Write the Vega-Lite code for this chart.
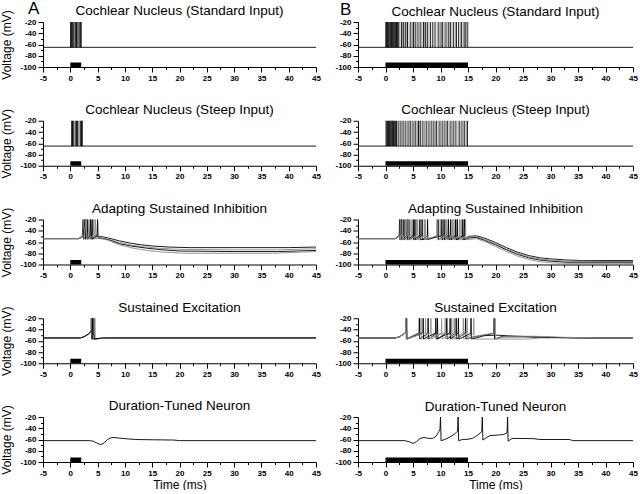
{
"$schema":"https://vega.github.io/schema/vega-lite/v6.json",
"background":"white",
"padding":{"left":0,"top":0,"right":2,"bottom":0},
"config":{"view":{"stroke":null},
"axis":{"domainColor":"#000","tickColor":"#000","labelColor":"#000","titleColor":"#000","labelFont":"Liberation Sans","titleFont":"Liberation Sans","labelFontSize":8,"labelFontWeight":"bold","titleFontWeight":"normal","titleFontSize":12,"labelPadding":2,"domainWidth":1,"tickWidth":1,"grid":false,"labelOverlap":false,"labelFlush":false},
"axisY":{"titlePadding":6},
"axisX":{"titlePadding":2},
"title":{"font":"Liberation Sans","fontSize":13.5,"fontWeight":"normal","color":"#000","frame":"group"}},
"datasets":{
"bars":[{"p":"A1","t0":0,"t1":2},{"p":"A2","t0":0,"t1":2},{"p":"A3","t0":0,"t1":2},{"p":"A4","t0":0,"t1":2},{"p":"A5","t0":0,"t1":2},{"p":"B1","t0":0,"t1":15},{"p":"B2","t0":0,"t1":15},{"p":"B3","t0":0,"t1":15},{"p":"B4","t0":0,"t1":15},{"p":"B5","t0":0,"t1":15}],
"spikes":[
{"p":"A1","k":1,"t":0.05},{"p":"A1","k":1,"t":0.2},{"p":"A1","k":1,"t":0.35},{"p":"A1","k":1,"t":0.5},{"p":"A1","k":1,"t":0.65},{"p":"A1","k":1,"t":0.85},{"p":"A1","k":1,"t":1.0},{"p":"A1","k":1,"t":1.15},{"p":"A1","k":1,"t":1.3},{"p":"A1","k":1,"t":1.55},{"p":"A1","k":1,"t":1.7},{"p":"A1","k":1,"t":1.85},{"p":"A1","k":1,"t":2.0},{"p":"A1","k":2,"t":0.75},{"p":"A1","k":2,"t":1.4},{"p":"A1","k":2,"t":1.6},
{"p":"A2","k":1,"t":0.25},{"p":"A2","k":1,"t":0.4},{"p":"A2","k":1,"t":0.55},{"p":"A2","k":1,"t":1.0},{"p":"A2","k":1,"t":1.15},{"p":"A2","k":1,"t":1.3},{"p":"A2","k":1,"t":1.9},{"p":"A2","k":1,"t":2.05},{"p":"A2","k":1,"t":2.2},{"p":"A2","k":2,"t":0.8},{"p":"A2","k":2,"t":1.5},{"p":"A2","k":2,"t":1.65},
{"p":"B1","k":1,"t":0.05},{"p":"B1","k":1,"t":0.2},{"p":"B1","k":1,"t":0.35},{"p":"B1","k":1,"t":0.5},{"p":"B1","k":1,"t":0.65},{"p":"B1","k":1,"t":0.8},{"p":"B1","k":1,"t":0.95},{"p":"B1","k":1,"t":1.1},{"p":"B1","k":1,"t":1.25},{"p":"B1","k":1,"t":1.4},{"p":"B1","k":1,"t":1.55},{"p":"B1","k":1,"t":1.7},{"p":"B1","k":1,"t":1.85},{"p":"B1","k":1,"t":2.0},{"p":"B1","k":1,"t":2.2},{"p":"B1","k":1,"t":2.4},{"p":"B1","k":1,"t":2.9},{"p":"B1","k":1,"t":3.3},{"p":"B1","k":1,"t":3.6},{"p":"B1","k":1,"t":4.0},{"p":"B1","k":1,"t":4.6},{"p":"B1","k":1,"t":5.1},{"p":"B1","k":1,"t":5.4},{"p":"B1","k":1,"t":5.9},{"p":"B1","k":1,"t":6.3},{"p":"B1","k":1,"t":6.9},{"p":"B1","k":1,"t":7.3},{"p":"B1","k":1,"t":7.6},{"p":"B1","k":1,"t":8.2},{"p":"B1","k":1,"t":8.6},{"p":"B1","k":1,"t":9.0},{"p":"B1","k":1,"t":9.7},{"p":"B1","k":1,"t":10.1},{"p":"B1","k":1,"t":10.4},{"p":"B1","k":1,"t":11.0},{"p":"B1","k":1,"t":11.5},{"p":"B1","k":1,"t":11.8},{"p":"B1","k":1,"t":12.4},{"p":"B1","k":1,"t":12.9},{"p":"B1","k":1,"t":13.3},{"p":"B1","k":1,"t":13.8},{"p":"B1","k":1,"t":14.3},{"p":"B1","k":1,"t":14.6},{"p":"B1","k":1,"t":14.95},
{"p":"B1","k":2,"t":2.6},{"p":"B1","k":2,"t":3.1},{"p":"B1","k":2,"t":3.8},{"p":"B1","k":2,"t":4.3},{"p":"B1","k":2,"t":4.9},{"p":"B1","k":2,"t":5.7},{"p":"B1","k":2,"t":6.6},{"p":"B1","k":2,"t":7.1},{"p":"B1","k":2,"t":7.9},{"p":"B1","k":2,"t":8.9},{"p":"B1","k":2,"t":9.4},{"p":"B1","k":2,"t":10.7},{"p":"B1","k":2,"t":11.2},{"p":"B1","k":2,"t":12.1},{"p":"B1","k":2,"t":12.7},{"p":"B1","k":2,"t":13.6},{"p":"B1","k":2,"t":14.1},{"p":"B1","k":2,"t":14.8},
{"p":"B2","k":1,"t":0.1},{"p":"B2","k":1,"t":0.25},{"p":"B2","k":1,"t":0.4},{"p":"B2","k":1,"t":0.55},{"p":"B2","k":1,"t":0.7},{"p":"B2","k":1,"t":0.85},{"p":"B2","k":1,"t":1.0},{"p":"B2","k":1,"t":1.15},{"p":"B2","k":1,"t":1.3},{"p":"B2","k":1,"t":1.45},{"p":"B2","k":1,"t":1.6},{"p":"B2","k":1,"t":1.8},{"p":"B2","k":1,"t":2.0},{"p":"B2","k":1,"t":2.3},{"p":"B2","k":1,"t":2.8},{"p":"B2","k":1,"t":3.2},{"p":"B2","k":1,"t":3.7},{"p":"B2","k":1,"t":4.1},{"p":"B2","k":1,"t":4.5},{"p":"B2","k":1,"t":5.0},{"p":"B2","k":1,"t":5.5},{"p":"B2","k":1,"t":6.0},{"p":"B2","k":1,"t":6.4},{"p":"B2","k":1,"t":6.8},{"p":"B2","k":1,"t":7.4},{"p":"B2","k":1,"t":7.9},{"p":"B2","k":1,"t":8.3},{"p":"B2","k":1,"t":8.8},{"p":"B2","k":1,"t":9.3},{"p":"B2","k":1,"t":9.9},{"p":"B2","k":1,"t":10.3},{"p":"B2","k":1,"t":10.8},{"p":"B2","k":1,"t":11.3},{"p":"B2","k":1,"t":11.9},{"p":"B2","k":1,"t":12.3},{"p":"B2","k":1,"t":12.8},{"p":"B2","k":1,"t":13.4},{"p":"B2","k":1,"t":13.9},{"p":"B2","k":1,"t":14.4},{"p":"B2","k":1,"t":14.9},
{"p":"B2","k":2,"t":2.5},{"p":"B2","k":2,"t":3.0},{"p":"B2","k":2,"t":3.5},{"p":"B2","k":2,"t":4.3},{"p":"B2","k":2,"t":4.8},{"p":"B2","k":2,"t":5.3},{"p":"B2","k":2,"t":5.8},{"p":"B2","k":2,"t":6.2},{"p":"B2","k":2,"t":7.1},{"p":"B2","k":2,"t":7.7},{"p":"B2","k":2,"t":8.5},{"p":"B2","k":2,"t":9.1},{"p":"B2","k":2,"t":9.6},{"p":"B2","k":2,"t":10.6},{"p":"B2","k":2,"t":11.1},{"p":"B2","k":2,"t":11.6},{"p":"B2","k":2,"t":12.6},{"p":"B2","k":2,"t":13.2},{"p":"B2","k":2,"t":13.7},{"p":"B2","k":2,"t":14.2},{"p":"B2","k":2,"t":14.7}
],
"traces":[
{"p":"A1","k":0,"t":-5,"v":-65},{"p":"A1","k":0,"t":45,"v":-65},
{"p":"A2","k":0,"t":-5,"v":-65},{"p":"A2","k":0,"t":45,"v":-65},
{"p":"B1","k":0,"t":-5,"v":-65},{"p":"B1","k":0,"t":45,"v":-65},
{"p":"B2","k":0,"t":-5,"v":-65},{"p":"B2","k":0,"t":45,"v":-65},
{"p":"A3","k":1,"t":-5,"v":-54},{"p":"A3","k":1,"t":1.5,"v":-54},{"p":"A3","k":1,"t":2.2,"v":-50},{"p":"A3","k":1,"t":2.35,"v":-20},{"p":"A3","k":1,"t":2.45,"v":-55},{"p":"A3","k":1,"t":3.0,"v":-51},{"p":"A3","k":1,"t":3.1,"v":-20},{"p":"A3","k":1,"t":3.2,"v":-55},{"p":"A3","k":1,"t":3.9,"v":-50},{"p":"A3","k":1,"t":4.0,"v":-20},{"p":"A3","k":1,"t":4.1,"v":-55},{"p":"A3","k":1,"t":4.8,"v":-50},{"p":"A3","k":1,"t":5.5,"v":-50},{"p":"A3","k":1,"t":7,"v":-53},{"p":"A3","k":1,"t":9,"v":-58},{"p":"A3","k":1,"t":11,"v":-62},{"p":"A3","k":1,"t":13,"v":-65},{"p":"A3","k":1,"t":15,"v":-67},{"p":"A3","k":1,"t":18,"v":-69},{"p":"A3","k":1,"t":22,"v":-70},{"p":"A3","k":1,"t":30,"v":-70},{"p":"A3","k":1,"t":40,"v":-70},{"p":"A3","k":1,"t":45,"v":-69},
{"p":"A3","k":2,"t":-5,"v":-54},{"p":"A3","k":2,"t":1.5,"v":-54},{"p":"A3","k":2,"t":2.3,"v":-49},{"p":"A3","k":2,"t":2.5,"v":-20},{"p":"A3","k":2,"t":2.6,"v":-55},{"p":"A3","k":2,"t":3.3,"v":-51},{"p":"A3","k":2,"t":3.4,"v":-20},{"p":"A3","k":2,"t":3.5,"v":-55},{"p":"A3","k":2,"t":4.5,"v":-49},{"p":"A3","k":2,"t":4.6,"v":-20},{"p":"A3","k":2,"t":4.7,"v":-55},{"p":"A3","k":2,"t":5.2,"v":-51},{"p":"A3","k":2,"t":7,"v":-55},{"p":"A3","k":2,"t":9,"v":-61},{"p":"A3","k":2,"t":11,"v":-65},{"p":"A3","k":2,"t":13,"v":-68},{"p":"A3","k":2,"t":16,"v":-71},{"p":"A3","k":2,"t":20,"v":-73},{"p":"A3","k":2,"t":30,"v":-74},{"p":"A3","k":2,"t":38,"v":-74},{"p":"A3","k":2,"t":45,"v":-72},
{"p":"A3","k":3,"t":-5,"v":-54},{"p":"A3","k":3,"t":1.6,"v":-54},{"p":"A3","k":3,"t":2.4,"v":-50},{"p":"A3","k":3,"t":2.7,"v":-20},{"p":"A3","k":3,"t":2.8,"v":-55},{"p":"A3","k":3,"t":3.6,"v":-50},{"p":"A3","k":3,"t":3.7,"v":-20},{"p":"A3","k":3,"t":3.8,"v":-55},{"p":"A3","k":3,"t":4.9,"v":-48},{"p":"A3","k":3,"t":5.0,"v":-20},{"p":"A3","k":3,"t":5.1,"v":-53},{"p":"A3","k":3,"t":7,"v":-56},{"p":"A3","k":3,"t":9,"v":-63},{"p":"A3","k":3,"t":11,"v":-67},{"p":"A3","k":3,"t":14,"v":-71},{"p":"A3","k":3,"t":17,"v":-74},{"p":"A3","k":3,"t":20,"v":-76},{"p":"A3","k":3,"t":30,"v":-77},{"p":"A3","k":3,"t":38,"v":-77},{"p":"A3","k":3,"t":45,"v":-75},
{"p":"A3","k":4,"t":-5,"v":-54},{"p":"A3","k":4,"t":1.6,"v":-54},{"p":"A3","k":4,"t":2.5,"v":-50},{"p":"A3","k":4,"t":2.9,"v":-20},{"p":"A3","k":4,"t":3.0,"v":-55},{"p":"A3","k":4,"t":4.2,"v":-49},{"p":"A3","k":4,"t":4.3,"v":-20},{"p":"A3","k":4,"t":4.4,"v":-55},{"p":"A3","k":4,"t":5.0,"v":-51},{"p":"A3","k":4,"t":7,"v":-57},{"p":"A3","k":4,"t":9,"v":-65},{"p":"A3","k":4,"t":11,"v":-70},{"p":"A3","k":4,"t":14,"v":-75},{"p":"A3","k":4,"t":17,"v":-78},{"p":"A3","k":4,"t":21,"v":-80},{"p":"A3","k":4,"t":30,"v":-80},{"p":"A3","k":4,"t":37,"v":-80},{"p":"A3","k":4,"t":45,"v":-77},
{"p":"A4","k":1,"t":-5,"v":-55},{"p":"A4","k":1,"t":1.8,"v":-55},{"p":"A4","k":1,"t":2.5,"v":-53},{"p":"A4","k":1,"t":3.2,"v":-49},{"p":"A4","k":1,"t":3.8,"v":-44},{"p":"A4","k":1,"t":3.85,"v":-20},{"p":"A4","k":1,"t":3.92,"v":-57},{"p":"A4","k":1,"t":4.3,"v":-48},{"p":"A4","k":1,"t":4.35,"v":-20},{"p":"A4","k":1,"t":4.42,"v":-57},{"p":"A4","k":1,"t":5,"v":-56},{"p":"A4","k":1,"t":6.5,"v":-55},{"p":"A4","k":1,"t":45,"v":-55},
{"p":"A4","k":2,"t":-5,"v":-55},{"p":"A4","k":2,"t":1.8,"v":-55},{"p":"A4","k":2,"t":2.5,"v":-53},{"p":"A4","k":2,"t":3.2,"v":-49},{"p":"A4","k":2,"t":3.9,"v":-43},{"p":"A4","k":2,"t":3.95,"v":-20},{"p":"A4","k":2,"t":4.02,"v":-58},{"p":"A4","k":2,"t":4.45,"v":-47},{"p":"A4","k":2,"t":4.5,"v":-20},{"p":"A4","k":2,"t":4.57,"v":-58},{"p":"A4","k":2,"t":5.5,"v":-56},{"p":"A4","k":2,"t":8,"v":-55},{"p":"A4","k":2,"t":45,"v":-55},
{"p":"A4","k":3,"t":-5,"v":-55},{"p":"A4","k":3,"t":1.8,"v":-55},{"p":"A4","k":3,"t":2.5,"v":-53},{"p":"A4","k":3,"t":3.3,"v":-48},{"p":"A4","k":3,"t":4.0,"v":-42},{"p":"A4","k":3,"t":4.05,"v":-20},{"p":"A4","k":3,"t":4.12,"v":-57},{"p":"A4","k":3,"t":6,"v":-55},{"p":"A4","k":3,"t":16,"v":-55},{"p":"A4","k":3,"t":45,"v":-55},
{"p":"A5","k":1,"t":-5,"v":-62},{"p":"A5","k":1,"t":3.5,"v":-62},{"p":"A5","k":1,"t":4.2,"v":-63},{"p":"A5","k":1,"t":5.0,"v":-67},{"p":"A5","k":1,"t":5.6,"v":-69},{"p":"A5","k":1,"t":6.2,"v":-66},{"p":"A5","k":1,"t":6.8,"v":-60},{"p":"A5","k":1,"t":7.4,"v":-57},{"p":"A5","k":1,"t":8.0,"v":-56.5},{"p":"A5","k":1,"t":9,"v":-57.5},{"p":"A5","k":1,"t":10,"v":-58.5},{"p":"A5","k":1,"t":12,"v":-60},{"p":"A5","k":1,"t":15,"v":-60.5},{"p":"A5","k":1,"t":19,"v":-61},{"p":"A5","k":1,"t":20,"v":-62},{"p":"A5","k":1,"t":45,"v":-62},
{"p":"B3","k":1,"t":-5,"v":-54},{"p":"B3","k":1,"t":1.8,"v":-54},{"p":"B3","k":1,"t":2.4,"v":-49},{"p":"B3","k":1,"t":2.5,"v":-49},{"p":"B3","k":1,"t":2.55,"v":-20},{"p":"B3","k":1,"t":2.62,"v":-56},{"p":"B3","k":1,"t":3.3,"v":-49},{"p":"B3","k":1,"t":3.35,"v":-20},{"p":"B3","k":1,"t":3.42,"v":-56},{"p":"B3","k":1,"t":4.2,"v":-49},{"p":"B3","k":1,"t":4.25,"v":-20},{"p":"B3","k":1,"t":4.32,"v":-56},{"p":"B3","k":1,"t":5.3,"v":-49},{"p":"B3","k":1,"t":5.35,"v":-20},{"p":"B3","k":1,"t":5.42,"v":-56},{"p":"B3","k":1,"t":6.6,"v":-49},{"p":"B3","k":1,"t":6.65,"v":-20},{"p":"B3","k":1,"t":6.72,"v":-56},{"p":"B3","k":1,"t":7.6,"v":-49},{"p":"B3","k":1,"t":7.65,"v":-20},{"p":"B3","k":1,"t":7.72,"v":-56},{"p":"B3","k":1,"t":9.5,"v":-49},{"p":"B3","k":1,"t":9.55,"v":-20},{"p":"B3","k":1,"t":9.62,"v":-56},{"p":"B3","k":1,"t":10.6,"v":-49},{"p":"B3","k":1,"t":10.65,"v":-20},{"p":"B3","k":1,"t":10.72,"v":-56},{"p":"B3","k":1,"t":11.8,"v":-49},{"p":"B3","k":1,"t":11.85,"v":-20},{"p":"B3","k":1,"t":11.92,"v":-56},{"p":"B3","k":1,"t":13.0,"v":-49},{"p":"B3","k":1,"t":13.05,"v":-20},{"p":"B3","k":1,"t":13.12,"v":-56},{"p":"B3","k":1,"t":14.3,"v":-49},{"p":"B3","k":1,"t":14.35,"v":-20},{"p":"B3","k":1,"t":14.42,"v":-56},{"p":"B3","k":1,"t":15,"v":-50},{"p":"B3","k":1,"t":16.5,"v":-49},{"p":"B3","k":1,"t":18,"v":-53},{"p":"B3","k":1,"t":20,"v":-61},{"p":"B3","k":1,"t":22,"v":-70},{"p":"B3","k":1,"t":24,"v":-78},{"p":"B3","k":1,"t":26,"v":-84},{"p":"B3","k":1,"t":28,"v":-88},{"p":"B3","k":1,"t":30,"v":-90},{"p":"B3","k":1,"t":33,"v":-92},{"p":"B3","k":1,"t":36,"v":-93},{"p":"B3","k":1,"t":45,"v":-93},
{"p":"B3","k":2,"t":-5,"v":-54},{"p":"B3","k":2,"t":1.8,"v":-54},{"p":"B3","k":2,"t":2.4,"v":-50},{"p":"B3","k":2,"t":2.65,"v":-48},{"p":"B3","k":2,"t":2.7,"v":-20},{"p":"B3","k":2,"t":2.77,"v":-56},{"p":"B3","k":2,"t":3.6,"v":-49},{"p":"B3","k":2,"t":3.65,"v":-20},{"p":"B3","k":2,"t":3.72,"v":-56},{"p":"B3","k":2,"t":4.6,"v":-49},{"p":"B3","k":2,"t":4.65,"v":-20},{"p":"B3","k":2,"t":4.72,"v":-56},{"p":"B3","k":2,"t":5.8,"v":-49},{"p":"B3","k":2,"t":5.85,"v":-20},{"p":"B3","k":2,"t":5.92,"v":-56},{"p":"B3","k":2,"t":7.2,"v":-49},{"p":"B3","k":2,"t":7.25,"v":-20},{"p":"B3","k":2,"t":7.32,"v":-56},{"p":"B3","k":2,"t":9.9,"v":-49},{"p":"B3","k":2,"t":9.95,"v":-20},{"p":"B3","k":2,"t":10.02,"v":-56},{"p":"B3","k":2,"t":11.1,"v":-49},{"p":"B3","k":2,"t":11.15,"v":-20},{"p":"B3","k":2,"t":11.22,"v":-56},{"p":"B3","k":2,"t":12.4,"v":-49},{"p":"B3","k":2,"t":12.45,"v":-20},{"p":"B3","k":2,"t":12.52,"v":-56},{"p":"B3","k":2,"t":13.7,"v":-49},{"p":"B3","k":2,"t":13.75,"v":-20},{"p":"B3","k":2,"t":13.82,"v":-56},{"p":"B3","k":2,"t":15,"v":-51},{"p":"B3","k":2,"t":16.5,"v":-51},{"p":"B3","k":2,"t":18,"v":-55},{"p":"B3","k":2,"t":20,"v":-63},{"p":"B3","k":2,"t":22,"v":-72},{"p":"B3","k":2,"t":24,"v":-80},{"p":"B3","k":2,"t":26,"v":-86},{"p":"B3","k":2,"t":28,"v":-90},{"p":"B3","k":2,"t":30,"v":-92},{"p":"B3","k":2,"t":33,"v":-94},{"p":"B3","k":2,"t":45,"v":-95},
{"p":"B3","k":3,"t":-5,"v":-54},{"p":"B3","k":3,"t":1.8,"v":-54},{"p":"B3","k":3,"t":2.4,"v":-50},{"p":"B3","k":3,"t":2.85,"v":-48},{"p":"B3","k":3,"t":2.9,"v":-20},{"p":"B3","k":3,"t":2.97,"v":-56},{"p":"B3","k":3,"t":3.9,"v":-49},{"p":"B3","k":3,"t":3.95,"v":-20},{"p":"B3","k":3,"t":4.02,"v":-56},{"p":"B3","k":3,"t":5.0,"v":-49},{"p":"B3","k":3,"t":5.05,"v":-20},{"p":"B3","k":3,"t":5.12,"v":-56},{"p":"B3","k":3,"t":6.2,"v":-49},{"p":"B3","k":3,"t":6.25,"v":-20},{"p":"B3","k":3,"t":6.32,"v":-56},{"p":"B3","k":3,"t":8.5,"v":-53},{"p":"B3","k":3,"t":10.2,"v":-49},{"p":"B3","k":3,"t":10.25,"v":-20},{"p":"B3","k":3,"t":10.32,"v":-56},{"p":"B3","k":3,"t":11.4,"v":-49},{"p":"B3","k":3,"t":11.45,"v":-20},{"p":"B3","k":3,"t":11.52,"v":-56},{"p":"B3","k":3,"t":12.7,"v":-49},{"p":"B3","k":3,"t":12.75,"v":-20},{"p":"B3","k":3,"t":12.82,"v":-56},{"p":"B3","k":3,"t":14.0,"v":-49},{"p":"B3","k":3,"t":14.05,"v":-20},{"p":"B3","k":3,"t":14.12,"v":-56},{"p":"B3","k":3,"t":15,"v":-53},{"p":"B3","k":3,"t":16.5,"v":-52},{"p":"B3","k":3,"t":18,"v":-57},{"p":"B3","k":3,"t":20,"v":-65},{"p":"B3","k":3,"t":22,"v":-74},{"p":"B3","k":3,"t":24,"v":-82},{"p":"B3","k":3,"t":26,"v":-88},{"p":"B3","k":3,"t":28,"v":-92},{"p":"B3","k":3,"t":30,"v":-94},{"p":"B3","k":3,"t":33,"v":-96},{"p":"B3","k":3,"t":45,"v":-96},
{"p":"B3","k":4,"t":-5,"v":-54},{"p":"B3","k":4,"t":1.8,"v":-54},{"p":"B3","k":4,"t":2.4,"v":-50},{"p":"B3","k":4,"t":3.0,"v":-48},{"p":"B3","k":4,"t":3.05,"v":-20},{"p":"B3","k":4,"t":3.12,"v":-56},{"p":"B3","k":4,"t":4.05,"v":-49},{"p":"B3","k":4,"t":4.1,"v":-20},{"p":"B3","k":4,"t":4.17,"v":-56},{"p":"B3","k":4,"t":5.6,"v":-49},{"p":"B3","k":4,"t":5.65,"v":-20},{"p":"B3","k":4,"t":5.72,"v":-56},{"p":"B3","k":4,"t":7.0,"v":-49},{"p":"B3","k":4,"t":7.05,"v":-20},{"p":"B3","k":4,"t":7.12,"v":-56},{"p":"B3","k":4,"t":9.3,"v":-49},{"p":"B3","k":4,"t":9.35,"v":-20},{"p":"B3","k":4,"t":9.42,"v":-56},{"p":"B3","k":4,"t":10.9,"v":-49},{"p":"B3","k":4,"t":10.95,"v":-20},{"p":"B3","k":4,"t":11.02,"v":-56},{"p":"B3","k":4,"t":12.1,"v":-49},{"p":"B3","k":4,"t":12.15,"v":-20},{"p":"B3","k":4,"t":12.22,"v":-56},{"p":"B3","k":4,"t":13.4,"v":-49},{"p":"B3","k":4,"t":13.45,"v":-20},{"p":"B3","k":4,"t":13.52,"v":-56},{"p":"B3","k":4,"t":14.5,"v":-50},{"p":"B3","k":4,"t":14.55,"v":-20},{"p":"B3","k":4,"t":14.62,"v":-56},{"p":"B3","k":4,"t":16.5,"v":-54},{"p":"B3","k":4,"t":18,"v":-59},{"p":"B3","k":4,"t":20,"v":-68},{"p":"B3","k":4,"t":22,"v":-77},{"p":"B3","k":4,"t":24,"v":-85},{"p":"B3","k":4,"t":26,"v":-91},{"p":"B3","k":4,"t":28,"v":-95},{"p":"B3","k":4,"t":30,"v":-97},{"p":"B3","k":4,"t":33,"v":-98},{"p":"B3","k":4,"t":45,"v":-98},
{"p":"B4","k":1,"t":-5,"v":-55},{"p":"B4","k":1,"t":1.8,"v":-55},{"p":"B4","k":1,"t":2.5,"v":-53},{"p":"B4","k":1,"t":3.2,"v":-49},{"p":"B4","k":1,"t":3.7,"v":-45},{"p":"B4","k":1,"t":3.75,"v":-20},{"p":"B4","k":1,"t":3.82,"v":-57},{"p":"B4","k":1,"t":6.1,"v":-46},{"p":"B4","k":1,"t":6.15,"v":-20},{"p":"B4","k":1,"t":6.22,"v":-57},{"p":"B4","k":1,"t":7.7,"v":-46},{"p":"B4","k":1,"t":7.75,"v":-20},{"p":"B4","k":1,"t":7.82,"v":-57},{"p":"B4","k":1,"t":9.4,"v":-46},{"p":"B4","k":1,"t":9.45,"v":-20},{"p":"B4","k":1,"t":9.52,"v":-57},{"p":"B4","k":1,"t":11.1,"v":-46},{"p":"B4","k":1,"t":11.15,"v":-20},{"p":"B4","k":1,"t":11.22,"v":-57},{"p":"B4","k":1,"t":12.8,"v":-46},{"p":"B4","k":1,"t":12.85,"v":-20},{"p":"B4","k":1,"t":12.92,"v":-57},{"p":"B4","k":1,"t":14.5,"v":-46},{"p":"B4","k":1,"t":14.55,"v":-20},{"p":"B4","k":1,"t":14.62,"v":-57},{"p":"B4","k":1,"t":16,"v":-53},{"p":"B4","k":1,"t":18,"v":-50},{"p":"B4","k":1,"t":19.7,"v":-47},{"p":"B4","k":1,"t":19.75,"v":-20},{"p":"B4","k":1,"t":19.82,"v":-57},{"p":"B4","k":1,"t":21,"v":-53},{"p":"B4","k":1,"t":25,"v":-53},{"p":"B4","k":1,"t":30,"v":-54},{"p":"B4","k":1,"t":35,"v":-55},{"p":"B4","k":1,"t":45,"v":-55},
{"p":"B4","k":2,"t":-5,"v":-55},{"p":"B4","k":2,"t":1.8,"v":-55},{"p":"B4","k":2,"t":2.5,"v":-53},{"p":"B4","k":2,"t":3.2,"v":-49},{"p":"B4","k":2,"t":3.75,"v":-45},{"p":"B4","k":2,"t":3.8,"v":-20},{"p":"B4","k":2,"t":3.87,"v":-57},{"p":"B4","k":2,"t":6.4,"v":-46},{"p":"B4","k":2,"t":6.45,"v":-20},{"p":"B4","k":2,"t":6.52,"v":-57},{"p":"B4","k":2,"t":8.2,"v":-46},{"p":"B4","k":2,"t":8.25,"v":-20},{"p":"B4","k":2,"t":8.32,"v":-57},{"p":"B4","k":2,"t":10.15,"v":-46},{"p":"B4","k":2,"t":10.2,"v":-20},{"p":"B4","k":2,"t":10.27,"v":-57},{"p":"B4","k":2,"t":12.0,"v":-46},{"p":"B4","k":2,"t":12.05,"v":-20},{"p":"B4","k":2,"t":12.12,"v":-57},{"p":"B4","k":2,"t":14.1,"v":-46},{"p":"B4","k":2,"t":14.15,"v":-20},{"p":"B4","k":2,"t":14.22,"v":-57},{"p":"B4","k":2,"t":16.0,"v":-47},{"p":"B4","k":2,"t":16.05,"v":-20},{"p":"B4","k":2,"t":16.12,"v":-57},{"p":"B4","k":2,"t":20,"v":-57},{"p":"B4","k":2,"t":26,"v":-57},{"p":"B4","k":2,"t":28,"v":-55},{"p":"B4","k":2,"t":45,"v":-55},
{"p":"B4","k":3,"t":-5,"v":-55},{"p":"B4","k":3,"t":1.8,"v":-55},{"p":"B4","k":3,"t":2.5,"v":-53},{"p":"B4","k":3,"t":3.2,"v":-49},{"p":"B4","k":3,"t":3.8,"v":-44},{"p":"B4","k":3,"t":3.85,"v":-20},{"p":"B4","k":3,"t":3.92,"v":-57},{"p":"B4","k":3,"t":6.8,"v":-46},{"p":"B4","k":3,"t":6.85,"v":-20},{"p":"B4","k":3,"t":6.92,"v":-57},{"p":"B4","k":3,"t":9.1,"v":-46},{"p":"B4","k":3,"t":9.15,"v":-20},{"p":"B4","k":3,"t":9.22,"v":-57},{"p":"B4","k":3,"t":11.7,"v":-46},{"p":"B4","k":3,"t":11.75,"v":-20},{"p":"B4","k":3,"t":11.82,"v":-57},{"p":"B4","k":3,"t":13.2,"v":-46},{"p":"B4","k":3,"t":13.25,"v":-20},{"p":"B4","k":3,"t":13.32,"v":-57},{"p":"B4","k":3,"t":15.5,"v":-47},{"p":"B4","k":3,"t":15.55,"v":-20},{"p":"B4","k":3,"t":15.62,"v":-57},{"p":"B4","k":3,"t":18,"v":-51},{"p":"B4","k":3,"t":20,"v":-50},{"p":"B4","k":3,"t":24,"v":-52},{"p":"B4","k":3,"t":30,"v":-54},{"p":"B4","k":3,"t":37,"v":-55},{"p":"B4","k":3,"t":45,"v":-55},
{"p":"B4","k":4,"t":-5,"v":-55},{"p":"B4","k":4,"t":1.8,"v":-55},{"p":"B4","k":4,"t":2.5,"v":-53},{"p":"B4","k":4,"t":3.2,"v":-49},{"p":"B4","k":4,"t":3.65,"v":-45},{"p":"B4","k":4,"t":3.7,"v":-20},{"p":"B4","k":4,"t":3.77,"v":-57},{"p":"B4","k":4,"t":7.24,"v":-46},{"p":"B4","k":4,"t":7.29,"v":-20},{"p":"B4","k":4,"t":7.36,"v":-57},{"p":"B4","k":4,"t":10.8,"v":-46},{"p":"B4","k":4,"t":10.85,"v":-20},{"p":"B4","k":4,"t":10.92,"v":-57},{"p":"B4","k":4,"t":12.45,"v":-46},{"p":"B4","k":4,"t":12.5,"v":-20},{"p":"B4","k":4,"t":12.57,"v":-57},{"p":"B4","k":4,"t":14.8,"v":-46},{"p":"B4","k":4,"t":14.85,"v":-20},{"p":"B4","k":4,"t":14.92,"v":-57},{"p":"B4","k":4,"t":17,"v":-51},{"p":"B4","k":4,"t":19.9,"v":-46},{"p":"B4","k":4,"t":19.95,"v":-20},{"p":"B4","k":4,"t":20.02,"v":-57},{"p":"B4","k":4,"t":22,"v":-52},{"p":"B4","k":4,"t":27,"v":-52},{"p":"B4","k":4,"t":33,"v":-54},{"p":"B4","k":4,"t":40,"v":-55},{"p":"B4","k":4,"t":45,"v":-55},
{"p":"B5","k":1,"t":-5,"v":-62},{"p":"B5","k":1,"t":3.5,"v":-62},{"p":"B5","k":1,"t":4.3,"v":-64},{"p":"B5","k":1,"t":5.0,"v":-67},{"p":"B5","k":1,"t":5.6,"v":-64},{"p":"B5","k":1,"t":6.3,"v":-58},{"p":"B5","k":1,"t":7.0,"v":-56.5},{"p":"B5","k":1,"t":7.8,"v":-58},{"p":"B5","k":1,"t":8.6,"v":-58},{"p":"B5","k":1,"t":9.2,"v":-54},{"p":"B5","k":1,"t":9.7,"v":-46},{"p":"B5","k":1,"t":9.9,"v":-42},{"p":"B5","k":1,"t":10.0,"v":-20},{"p":"B5","k":1,"t":10.1,"v":-62},{"p":"B5","k":1,"t":10.8,"v":-60},{"p":"B5","k":1,"t":11.8,"v":-55},{"p":"B5","k":1,"t":12.6,"v":-50},{"p":"B5","k":1,"t":13.1,"v":-45},{"p":"B5","k":1,"t":13.2,"v":-20},{"p":"B5","k":1,"t":13.3,"v":-62},{"p":"B5","k":1,"t":14,"v":-60},{"p":"B5","k":1,"t":15,"v":-59.5},{"p":"B5","k":1,"t":15.8,"v":-58},{"p":"B5","k":1,"t":16.8,"v":-52},{"p":"B5","k":1,"t":17.5,"v":-46},{"p":"B5","k":1,"t":17.6,"v":-20},{"p":"B5","k":1,"t":17.7,"v":-61},{"p":"B5","k":1,"t":18.3,"v":-57},{"p":"B5","k":1,"t":19,"v":-53},{"p":"B5","k":1,"t":20.5,"v":-52},{"p":"B5","k":1,"t":21.5,"v":-51},{"p":"B5","k":1,"t":22.1,"v":-48},{"p":"B5","k":1,"t":22.2,"v":-20},{"p":"B5","k":1,"t":22.3,"v":-63},{"p":"B5","k":1,"t":23,"v":-58},{"p":"B5","k":1,"t":27,"v":-58.5},{"p":"B5","k":1,"t":28,"v":-60},{"p":"B5","k":1,"t":33.5,"v":-60},{"p":"B5","k":1,"t":34,"v":-62},{"p":"B5","k":1,"t":45,"v":-62}
]},
"hconcat":[
{"title":{"text":"A","anchor":"start","frame":"group","fontSize":17,"fontWeight":"normal","dx":-15,"offset":-14},
 "spacing":53.75,"bounds":"flush",
 "vconcat":[
  {"width":273,"height":45,"title":{"text":"Cochlear Nucleus (Standard Input)","offset":-8},"layer":[
   {"data":{"name":"traces"},"transform":[{"filter":"datum.p==='A1'"}],"mark":{"type":"line","strokeWidth":0.9},"encoding":{
    "x":{"field":"t","type":"quantitative","scale":{"domain":[-5,45],"nice":false,"zero":false},"axis":{"values":[-5,-2.5,0,2.5,5,7.5,10,12.5,15,17.5,20,22.5,25,27.5,30,32.5,35,37.5,40,42.5,45],"tickCount":100,"labelExpr":"datum.value % 5 === 0 ? '' + datum.value : ''","tickSize":{"condition":{"test":"datum.value % 5 === 0","value":5},"value":2.5},"title":null,"labelOverlap":false,"labelFlush":false}},
    "y":{"field":"v","type":"quantitative","scale":{"domain":[-100,-20],"nice":false,"zero":false},"axis":{"values":[-100,-90,-80,-70,-60,-50,-40,-30,-20],"tickCount":100,"labelExpr":"datum.value % 20 === 0 ? '' + datum.value : ''","tickSize":{"condition":{"test":"datum.value % 20 === 0","value":5},"value":2.5},"title":"Voltage (mV)","labelOverlap":false,"labelFlush":false}},
    "color":{"field":"k","type":"nominal","scale":{"domain":[0,1,2,3,4],"range":["#000000","#000000","#8c8c8c","#000000","#8c8c8c"]},"legend":null}}},
   {"data":{"name":"spikes"},"transform":[{"filter":"datum.p==='A1'"}],"mark":{"type":"rule","strokeWidth":0.9},"encoding":{"x":{"field":"t","type":"quantitative"},"y":{"datum":-65},"y2":{"datum":-20},"color":{"field":"k","type":"nominal","legend":null}}},
   {"data":{"name":"bars"},"transform":[{"filter":"datum.p==='A1'"}],"mark":{"type":"rect","color":"#000"},"encoding":{"x":{"field":"t0","type":"quantitative"},"x2":{"field":"t1"},"y":{"datum":-100},"y2":{"datum":-92}}}]},
  {"width":273,"height":45,"title":{"text":"Cochlear Nucleus (Steep Input)","offset":-8},"layer":[
   {"data":{"name":"traces"},"transform":[{"filter":"datum.p==='A2'"}],"mark":{"type":"line","strokeWidth":0.9},"encoding":{
    "x":{"field":"t","type":"quantitative","scale":{"domain":[-5,45],"nice":false,"zero":false},"axis":{"values":[-5,-2.5,0,2.5,5,7.5,10,12.5,15,17.5,20,22.5,25,27.5,30,32.5,35,37.5,40,42.5,45],"tickCount":100,"labelExpr":"datum.value % 5 === 0 ? '' + datum.value : ''","tickSize":{"condition":{"test":"datum.value % 5 === 0","value":5},"value":2.5},"title":null,"labelOverlap":false,"labelFlush":false}},
    "y":{"field":"v","type":"quantitative","scale":{"domain":[-100,-20],"nice":false,"zero":false},"axis":{"values":[-100,-90,-80,-70,-60,-50,-40,-30,-20],"tickCount":100,"labelExpr":"datum.value % 20 === 0 ? '' + datum.value : ''","tickSize":{"condition":{"test":"datum.value % 20 === 0","value":5},"value":2.5},"title":"Voltage (mV)","labelOverlap":false,"labelFlush":false}},
    "color":{"field":"k","type":"nominal","scale":{"domain":[0,1,2,3,4],"range":["#000000","#000000","#8c8c8c","#000000","#8c8c8c"]},"legend":null}}},
   {"data":{"name":"spikes"},"transform":[{"filter":"datum.p==='A2'"}],"mark":{"type":"rule","strokeWidth":0.9},"encoding":{"x":{"field":"t","type":"quantitative"},"y":{"datum":-65},"y2":{"datum":-20},"color":{"field":"k","type":"nominal","legend":null}}},
   {"data":{"name":"bars"},"transform":[{"filter":"datum.p==='A2'"}],"mark":{"type":"rect","color":"#000"},"encoding":{"x":{"field":"t0","type":"quantitative"},"x2":{"field":"t1"},"y":{"datum":-100},"y2":{"datum":-92}}}]},
  {"width":273,"height":45,"title":{"text":"Adapting Sustained Inhibition","offset":-8},"layer":[
   {"data":{"name":"traces"},"transform":[{"filter":"datum.p==='A3'"}],"mark":{"type":"line","strokeWidth":0.9},"encoding":{
    "x":{"field":"t","type":"quantitative","scale":{"domain":[-5,45],"nice":false,"zero":false},"axis":{"values":[-5,-2.5,0,2.5,5,7.5,10,12.5,15,17.5,20,22.5,25,27.5,30,32.5,35,37.5,40,42.5,45],"tickCount":100,"labelExpr":"datum.value % 5 === 0 ? '' + datum.value : ''","tickSize":{"condition":{"test":"datum.value % 5 === 0","value":5},"value":2.5},"title":null,"labelOverlap":false,"labelFlush":false}},
    "y":{"field":"v","type":"quantitative","scale":{"domain":[-100,-20],"nice":false,"zero":false},"axis":{"values":[-100,-90,-80,-70,-60,-50,-40,-30,-20],"tickCount":100,"labelExpr":"datum.value % 20 === 0 ? '' + datum.value : ''","tickSize":{"condition":{"test":"datum.value % 20 === 0","value":5},"value":2.5},"title":"Voltage (mV)","labelOverlap":false,"labelFlush":false}},
    "color":{"field":"k","type":"nominal","scale":{"domain":[0,1,2,3,4],"range":["#000000","#000000","#8c8c8c","#000000","#8c8c8c"]},"legend":null}}},
   {"data":{"name":"bars"},"transform":[{"filter":"datum.p==='A3'"}],"mark":{"type":"rect","color":"#000"},"encoding":{"x":{"field":"t0","type":"quantitative"},"x2":{"field":"t1"},"y":{"datum":-100},"y2":{"datum":-92}}}]},
  {"width":273,"height":45,"title":{"text":"Sustained Excitation","offset":-8},"layer":[
   {"data":{"name":"traces"},"transform":[{"filter":"datum.p==='A4'"}],"mark":{"type":"line","strokeWidth":0.9},"encoding":{
    "x":{"field":"t","type":"quantitative","scale":{"domain":[-5,45],"nice":false,"zero":false},"axis":{"values":[-5,-2.5,0,2.5,5,7.5,10,12.5,15,17.5,20,22.5,25,27.5,30,32.5,35,37.5,40,42.5,45],"tickCount":100,"labelExpr":"datum.value % 5 === 0 ? '' + datum.value : ''","tickSize":{"condition":{"test":"datum.value % 5 === 0","value":5},"value":2.5},"title":null,"labelOverlap":false,"labelFlush":false}},
    "y":{"field":"v","type":"quantitative","scale":{"domain":[-100,-20],"nice":false,"zero":false},"axis":{"values":[-100,-90,-80,-70,-60,-50,-40,-30,-20],"tickCount":100,"labelExpr":"datum.value % 20 === 0 ? '' + datum.value : ''","tickSize":{"condition":{"test":"datum.value % 20 === 0","value":5},"value":2.5},"title":"Voltage (mV)","labelOverlap":false,"labelFlush":false}},
    "color":{"field":"k","type":"nominal","scale":{"domain":[0,1,2,3,4],"range":["#000000","#000000","#8c8c8c","#000000","#8c8c8c"]},"legend":null}}},
   {"data":{"name":"bars"},"transform":[{"filter":"datum.p==='A4'"}],"mark":{"type":"rect","color":"#000"},"encoding":{"x":{"field":"t0","type":"quantitative"},"x2":{"field":"t1"},"y":{"datum":-100},"y2":{"datum":-92}}}]},
  {"width":273,"height":45,"title":{"text":"Duration-Tuned Neuron","offset":-8},"layer":[
   {"data":{"name":"traces"},"transform":[{"filter":"datum.p==='A5'"}],"mark":{"type":"line","strokeWidth":0.9},"encoding":{
    "x":{"field":"t","type":"quantitative","scale":{"domain":[-5,45],"nice":false,"zero":false},"axis":{"values":[-5,-2.5,0,2.5,5,7.5,10,12.5,15,17.5,20,22.5,25,27.5,30,32.5,35,37.5,40,42.5,45],"tickCount":100,"labelExpr":"datum.value % 5 === 0 ? '' + datum.value : ''","tickSize":{"condition":{"test":"datum.value % 5 === 0","value":5},"value":2.5},"title":"Time (ms)","labelOverlap":false,"labelFlush":false}},
    "y":{"field":"v","type":"quantitative","scale":{"domain":[-100,-20],"nice":false,"zero":false},"axis":{"values":[-100,-90,-80,-70,-60,-50,-40,-30,-20],"tickCount":100,"labelExpr":"datum.value % 20 === 0 ? '' + datum.value : ''","tickSize":{"condition":{"test":"datum.value % 20 === 0","value":5},"value":2.5},"title":"Voltage (mV)","labelOverlap":false,"labelFlush":false}},
    "color":{"field":"k","type":"nominal","scale":{"domain":[0,1,2,3,4],"range":["#000000","#000000","#8c8c8c","#000000","#8c8c8c"]},"legend":null}}},
   {"data":{"name":"bars"},"transform":[{"filter":"datum.p==='A5'"}],"mark":{"type":"rect","color":"#000"},"encoding":{"x":{"field":"t0","type":"quantitative"},"x2":{"field":"t1"},"y":{"datum":-100},"y2":{"datum":-92}}}]}
 ]},
{"title":{"text":"B","anchor":"start","frame":"group","fontSize":17,"fontWeight":"normal","dx":-18,"offset":-14},
 "spacing":53.75,"bounds":"flush",
 "vconcat":[
  {"width":275,"height":45,"title":{"text":"Cochlear Nucleus (Standard Input)","offset":0},"layer":[
   {"data":{"name":"traces"},"transform":[{"filter":"datum.p==='B1'"}],"mark":{"type":"line","strokeWidth":0.9},"encoding":{
    "x":{"field":"t","type":"quantitative","scale":{"domain":[-5,45],"nice":false,"zero":false},"axis":{"values":[-5,-2.5,0,2.5,5,7.5,10,12.5,15,17.5,20,22.5,25,27.5,30,32.5,35,37.5,40,42.5,45],"tickCount":100,"labelExpr":"datum.value % 5 === 0 ? '' + datum.value : ''","tickSize":{"condition":{"test":"datum.value % 5 === 0","value":5},"value":2.5},"title":null,"labelOverlap":false,"labelFlush":false}},
    "y":{"field":"v","type":"quantitative","scale":{"domain":[-100,-20],"nice":false,"zero":false},"axis":{"values":[-100,-90,-80,-70,-60,-50,-40,-30,-20],"tickCount":100,"labelExpr":"datum.value % 20 === 0 ? '' + datum.value : ''","tickSize":{"condition":{"test":"datum.value % 20 === 0","value":5},"value":2.5},"title":null,"labelOverlap":false,"labelFlush":false}},
    "color":{"field":"k","type":"nominal","scale":{"domain":[0,1,2,3,4],"range":["#000000","#000000","#8c8c8c","#000000","#8c8c8c"]},"legend":null}}},
   {"data":{"name":"spikes"},"transform":[{"filter":"datum.p==='B1'"}],"mark":{"type":"rule","strokeWidth":0.9},"encoding":{"x":{"field":"t","type":"quantitative"},"y":{"datum":-65},"y2":{"datum":-20},"color":{"field":"k","type":"nominal","legend":null}}},
   {"data":{"name":"bars"},"transform":[{"filter":"datum.p==='B1'"}],"mark":{"type":"rect","color":"#000"},"encoding":{"x":{"field":"t0","type":"quantitative"},"x2":{"field":"t1"},"y":{"datum":-100},"y2":{"datum":-92}}}]},
  {"width":275,"height":45,"title":{"text":"Cochlear Nucleus (Steep Input)","offset":0},"layer":[
   {"data":{"name":"traces"},"transform":[{"filter":"datum.p==='B2'"}],"mark":{"type":"line","strokeWidth":0.9},"encoding":{
    "x":{"field":"t","type":"quantitative","scale":{"domain":[-5,45],"nice":false,"zero":false},"axis":{"values":[-5,-2.5,0,2.5,5,7.5,10,12.5,15,17.5,20,22.5,25,27.5,30,32.5,35,37.5,40,42.5,45],"tickCount":100,"labelExpr":"datum.value % 5 === 0 ? '' + datum.value : ''","tickSize":{"condition":{"test":"datum.value % 5 === 0","value":5},"value":2.5},"title":null,"labelOverlap":false,"labelFlush":false}},
    "y":{"field":"v","type":"quantitative","scale":{"domain":[-100,-20],"nice":false,"zero":false},"axis":{"values":[-100,-90,-80,-70,-60,-50,-40,-30,-20],"tickCount":100,"labelExpr":"datum.value % 20 === 0 ? '' + datum.value : ''","tickSize":{"condition":{"test":"datum.value % 20 === 0","value":5},"value":2.5},"title":null,"labelOverlap":false,"labelFlush":false}},
    "color":{"field":"k","type":"nominal","scale":{"domain":[0,1,2,3,4],"range":["#000000","#000000","#8c8c8c","#000000","#8c8c8c"]},"legend":null}}},
   {"data":{"name":"spikes"},"transform":[{"filter":"datum.p==='B2'"}],"mark":{"type":"rule","strokeWidth":0.9},"encoding":{"x":{"field":"t","type":"quantitative"},"y":{"datum":-65},"y2":{"datum":-20},"color":{"field":"k","type":"nominal","legend":null}}},
   {"data":{"name":"bars"},"transform":[{"filter":"datum.p==='B2'"}],"mark":{"type":"rect","color":"#000"},"encoding":{"x":{"field":"t0","type":"quantitative"},"x2":{"field":"t1"},"y":{"datum":-100},"y2":{"datum":-92}}}]},
  {"width":275,"height":45,"title":{"text":"Adapting Sustained Inhibition","offset":0},"layer":[
   {"data":{"name":"traces"},"transform":[{"filter":"datum.p==='B3'"}],"mark":{"type":"line","strokeWidth":0.9},"encoding":{
    "x":{"field":"t","type":"quantitative","scale":{"domain":[-5,45],"nice":false,"zero":false},"axis":{"values":[-5,-2.5,0,2.5,5,7.5,10,12.5,15,17.5,20,22.5,25,27.5,30,32.5,35,37.5,40,42.5,45],"tickCount":100,"labelExpr":"datum.value % 5 === 0 ? '' + datum.value : ''","tickSize":{"condition":{"test":"datum.value % 5 === 0","value":5},"value":2.5},"title":null,"labelOverlap":false,"labelFlush":false}},
    "y":{"field":"v","type":"quantitative","scale":{"domain":[-100,-20],"nice":false,"zero":false},"axis":{"values":[-100,-90,-80,-70,-60,-50,-40,-30,-20],"tickCount":100,"labelExpr":"datum.value % 20 === 0 ? '' + datum.value : ''","tickSize":{"condition":{"test":"datum.value % 20 === 0","value":5},"value":2.5},"title":null,"labelOverlap":false,"labelFlush":false}},
    "color":{"field":"k","type":"nominal","scale":{"domain":[0,1,2,3,4],"range":["#000000","#000000","#8c8c8c","#000000","#8c8c8c"]},"legend":null}}},
   {"data":{"name":"bars"},"transform":[{"filter":"datum.p==='B3'"}],"mark":{"type":"rect","color":"#000"},"encoding":{"x":{"field":"t0","type":"quantitative"},"x2":{"field":"t1"},"y":{"datum":-100},"y2":{"datum":-92}}}]},
  {"width":275,"height":45,"title":{"text":"Sustained Excitation","offset":0},"layer":[
   {"data":{"name":"traces"},"transform":[{"filter":"datum.p==='B4'"}],"mark":{"type":"line","strokeWidth":0.9},"encoding":{
    "x":{"field":"t","type":"quantitative","scale":{"domain":[-5,45],"nice":false,"zero":false},"axis":{"values":[-5,-2.5,0,2.5,5,7.5,10,12.5,15,17.5,20,22.5,25,27.5,30,32.5,35,37.5,40,42.5,45],"tickCount":100,"labelExpr":"datum.value % 5 === 0 ? '' + datum.value : ''","tickSize":{"condition":{"test":"datum.value % 5 === 0","value":5},"value":2.5},"title":null,"labelOverlap":false,"labelFlush":false}},
    "y":{"field":"v","type":"quantitative","scale":{"domain":[-100,-20],"nice":false,"zero":false},"axis":{"values":[-100,-90,-80,-70,-60,-50,-40,-30,-20],"tickCount":100,"labelExpr":"datum.value % 20 === 0 ? '' + datum.value : ''","tickSize":{"condition":{"test":"datum.value % 20 === 0","value":5},"value":2.5},"title":null,"labelOverlap":false,"labelFlush":false}},
    "color":{"field":"k","type":"nominal","scale":{"domain":[0,1,2,3,4],"range":["#000000","#000000","#8c8c8c","#000000","#8c8c8c"]},"legend":null}}},
   {"data":{"name":"bars"},"transform":[{"filter":"datum.p==='B4'"}],"mark":{"type":"rect","color":"#000"},"encoding":{"x":{"field":"t0","type":"quantitative"},"x2":{"field":"t1"},"y":{"datum":-100},"y2":{"datum":-92}}}]},
  {"width":275,"height":45,"title":{"text":"Duration-Tuned Neuron","offset":0},"layer":[
   {"data":{"name":"traces"},"transform":[{"filter":"datum.p==='B5'"}],"mark":{"type":"line","strokeWidth":0.9},"encoding":{
    "x":{"field":"t","type":"quantitative","scale":{"domain":[-5,45],"nice":false,"zero":false},"axis":{"values":[-5,-2.5,0,2.5,5,7.5,10,12.5,15,17.5,20,22.5,25,27.5,30,32.5,35,37.5,40,42.5,45],"tickCount":100,"labelExpr":"datum.value % 5 === 0 ? '' + datum.value : ''","tickSize":{"condition":{"test":"datum.value % 5 === 0","value":5},"value":2.5},"title":"Time (ms)","labelOverlap":false,"labelFlush":false}},
    "y":{"field":"v","type":"quantitative","scale":{"domain":[-100,-20],"nice":false,"zero":false},"axis":{"values":[-100,-90,-80,-70,-60,-50,-40,-30,-20],"tickCount":100,"labelExpr":"datum.value % 20 === 0 ? '' + datum.value : ''","tickSize":{"condition":{"test":"datum.value % 20 === 0","value":5},"value":2.5},"title":null,"labelOverlap":false,"labelFlush":false}},
    "color":{"field":"k","type":"nominal","scale":{"domain":[0,1,2,3,4],"range":["#000000","#000000","#8c8c8c","#000000","#8c8c8c"]},"legend":null}}},
   {"data":{"name":"bars"},"transform":[{"filter":"datum.p==='B5'"}],"mark":{"type":"rect","color":"#000"},"encoding":{"x":{"field":"t0","type":"quantitative"},"x2":{"field":"t1"},"y":{"datum":-100},"y2":{"datum":-92}}}]}
 ]}
],
"spacing":13
}
